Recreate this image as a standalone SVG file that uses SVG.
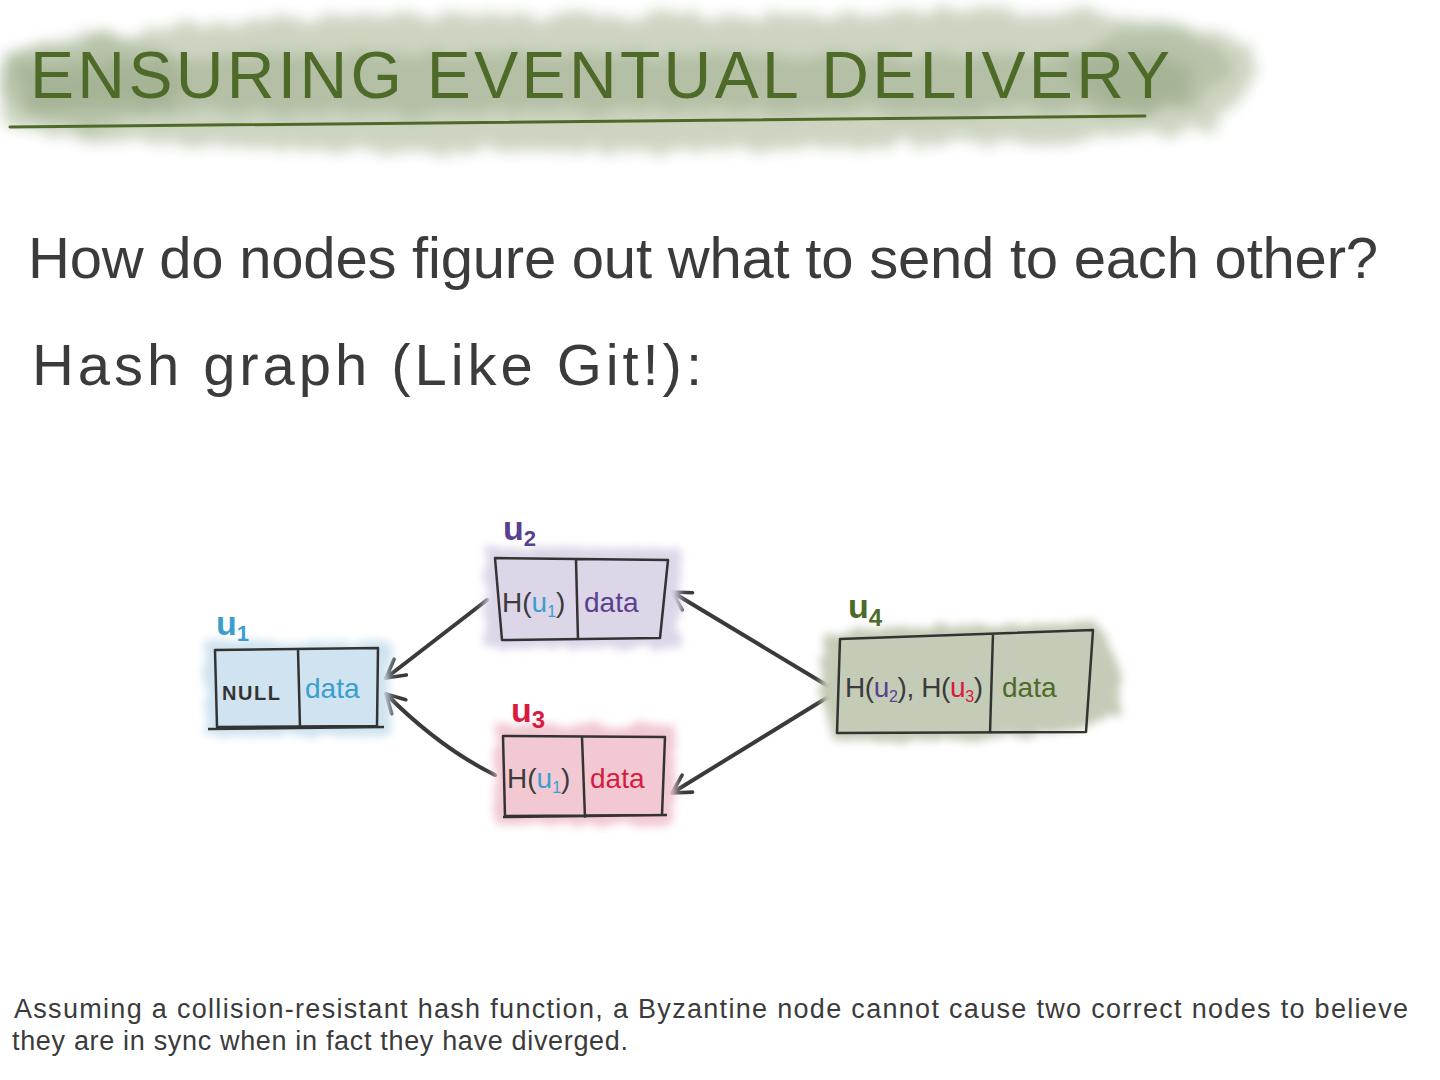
<svg xmlns="http://www.w3.org/2000/svg" width="1440" height="1080" viewBox="0 0 1440 1080">
<style>
text{font-family:"Liberation Sans","DejaVu Sans",sans-serif;}
.hand{fill:#3b3b3b;}
.box{fill:none;stroke:#333;stroke-width:2.5;stroke-linejoin:round;}
.conn{fill:none;stroke:#3a3a3a;stroke-width:4;stroke-linecap:round;marker-end:url(#head);}
.cell{font-size:28px;}
.lbl{font-size:34px;font-weight:bold;}
</style>
<defs>
<filter id="wash" x="-20%" y="-50%" width="140%" height="200%">
<feTurbulence type="fractalNoise" baseFrequency="0.04" numOctaves="3" seed="3" result="n"/>
<feDisplacementMap in="SourceGraphic" in2="n" scale="22" result="d"/>
<feGaussianBlur in="d" stdDeviation="7"/>
</filter>
<filter id="soft" x="-20%" y="-40%" width="140%" height="180%">
<feTurbulence type="fractalNoise" baseFrequency="0.06" numOctaves="2" seed="7" result="n"/>
<feDisplacementMap in="SourceGraphic" in2="n" scale="12" result="d"/>
<feGaussianBlur in="d" stdDeviation="4"/>
</filter>
<marker id="head" viewBox="0 0 12 12" refX="10" refY="6" markerWidth="24" markerHeight="24" orient="auto" markerUnits="userSpaceOnUse">
<path d="M1,1 L10,6 L1,11" fill="none" stroke="#3a3a3a" stroke-width="1.8" stroke-linecap="round" stroke-linejoin="round"/>
</marker>
</defs>
<rect width="1440" height="1080" fill="#ffffff"/>

<g id="title">
<path d="M5,55 C80,40 150,25 300,18 C500,12 800,20 950,12 C1080,8 1200,20 1250,45 C1260,80 1240,110 1200,130 C1000,150 700,150 500,152 C300,155 100,140 10,130 C0,110 0,80 5,55 Z" fill="#cdd5c2" filter="url(#wash)"/>
<path d="M20,70 C200,50 500,50 800,55 C950,57 1100,50 1190,62 L1185,108 C900,112 500,115 25,112 Z" fill="#8fa07c" opacity="0.4" filter="url(#wash)"/>
<ellipse cx="90" cy="80" rx="90" ry="45" fill="#8fa07c" opacity="0.35" filter="url(#wash)"/>
<ellipse cx="1150" cy="70" rx="80" ry="40" fill="#8fa07c" opacity="0.35" filter="url(#wash)"/>
<text x="30" y="98" font-size="66" fill="#4e6a28" textLength="1140" lengthAdjust="spacing">ENSURING EVENTUAL DELIVERY</text>
<path d="M10,127 C300,122 700,118 1145,116" fill="none" stroke="#4e6a28" stroke-width="3" stroke-linecap="round"/>
</g>

<g id="question">
<text class="hand" x="28" y="278" font-size="58" textLength="1350" lengthAdjust="spacing">How do nodes figure out what to send to each other?</text>
<text class="hand" x="32" y="385" font-size="58" textLength="670" lengthAdjust="spacing">Hash graph (Like Git!):</text>
</g>

<g id="connectors">
<path class="conn" d="M487,600 L386,678"/>
<path class="conn" d="M495,775 Q440,748 386,694"/>
<path class="conn" d="M828,686 L672,592"/>
<path class="conn" d="M828,697 L672,793"/>
</g>

<g id="u1">
<rect x="205" y="642" width="185" height="94" fill="#cfe3f0" filter="url(#soft)"/>
<text class="lbl" x="216" y="635" fill="#3a9fcf">u<tspan font-size="22" dy="6">1</tspan></text>
<path class="box" d="M215,650 L378,648 L377,726 L217,727 Z M298,650 L300,727 M208,729 L384,727"/>
<text x="222" y="700" font-size="20" fill="#333" font-weight="bold" textLength="58" lengthAdjust="spacing">NULL</text>
<text class="cell" x="305" y="698" fill="#3a9fcf">data</text>
</g>

<g id="u2">
<rect x="485" y="548" width="195" height="100" fill="#dcd6e8" filter="url(#soft)"/>
<text class="lbl" x="503" y="540" fill="#5b3f8f">u<tspan font-size="22" dy="6">2</tspan></text>
<path class="box" d="M495,558 L668,560 L660,638 L502,640 Z M576,560 L578,640"/>
<text class="cell" x="502" y="612" fill="#3b3b3b">H(<tspan fill="#3a9fcf">u<tspan font-size="16" dy="5">1</tspan></tspan><tspan dy="-5">)</tspan></text>
<text class="cell" x="584" y="612" fill="#5b3f8f">data</text>
</g>

<g id="u3">
<rect x="495" y="725" width="180" height="100" fill="#f2c9d3" filter="url(#soft)"/>
<text class="lbl" x="511" y="722" fill="#d81b3f">u<tspan font-size="24" dy="6">3</tspan></text>
<path class="box" d="M503,736 L665,737 L662,815 L505,816 Z M582,737 L585,818 M503,817 L667,815"/>
<text class="cell" x="507" y="788" fill="#3b3b3b">H(<tspan fill="#3a9fcf">u<tspan font-size="16" dy="5">1</tspan></tspan><tspan dy="-5">)</tspan></text>
<text class="cell" x="590" y="788" fill="#d81b3f">data</text>
</g>

<g id="u4">
<path d="M825,635 C900,620 1000,628 1095,622 C1120,650 1125,690 1118,715 C1050,745 950,740 835,742 C820,710 818,670 825,635 Z" fill="#c4ccb7" filter="url(#soft)"/>
<text class="lbl" x="848" y="618" fill="#4e6a28">u<tspan font-size="24" dy="8">4</tspan></text>
<path class="box" d="M840,639 L1093,630 L1086,732 L837,733 Z M993,633 L990,733"/>
<text class="cell" x="845" y="697" font-size="27" fill="#3b3b3b" textLength="138" lengthAdjust="spacing">H(<tspan fill="#5b3f8f">u<tspan font-size="16" dy="5">2</tspan></tspan><tspan dy="-5">), H(</tspan><tspan fill="#d81b3f">u<tspan font-size="16" dy="5">3</tspan></tspan><tspan dy="-5">)</tspan></text>
<text class="cell" x="1002" y="697" fill="#4e6a28">data</text>
</g>

<g id="caption">
<text class="hand" x="14" y="1018" font-size="27" textLength="1394" lengthAdjust="spacing">Assuming a collision-resistant hash function, a Byzantine node cannot cause two correct nodes to believe</text>
<text class="hand" x="12" y="1050" font-size="27" textLength="616" lengthAdjust="spacing">they are in sync when in fact they have diverged.</text>
</g>
</svg>
